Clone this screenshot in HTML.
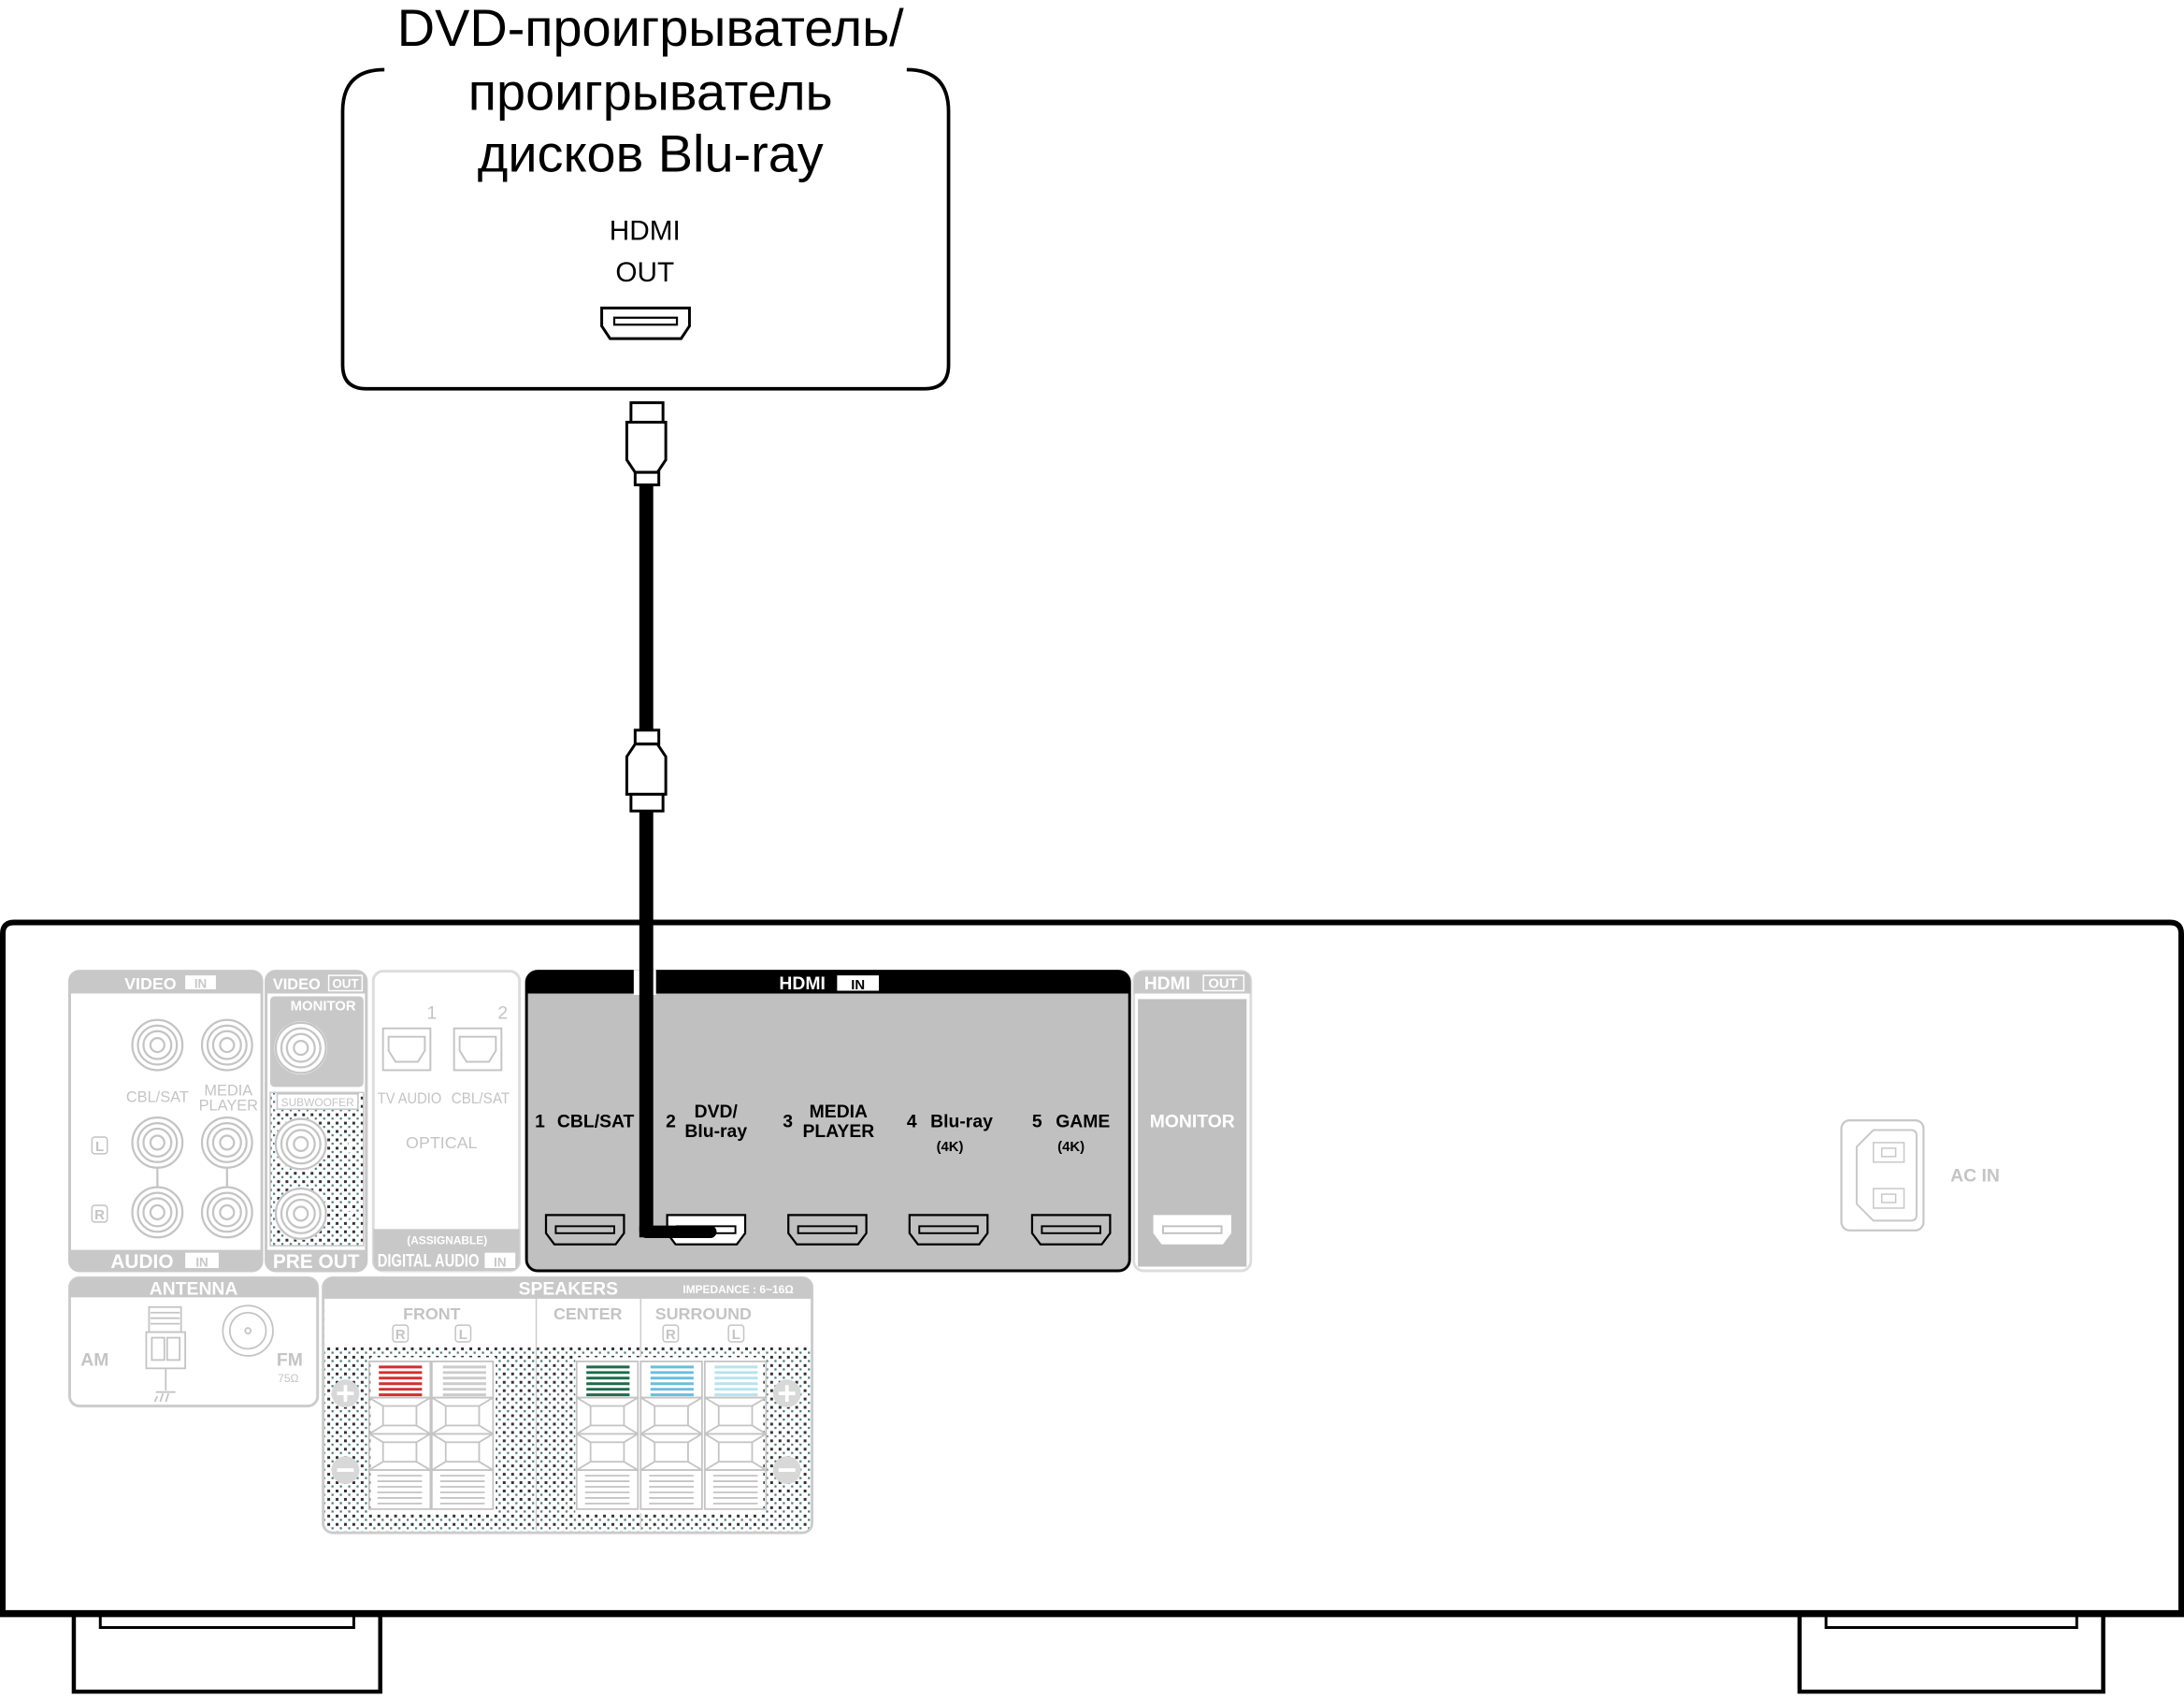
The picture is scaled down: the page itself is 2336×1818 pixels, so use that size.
<!DOCTYPE html>
<html><head><meta charset="utf-8"><style>
html,body{margin:0;padding:0;background:#fff;width:2336px;height:1818px;overflow:hidden}
svg{display:block}
text{font-family:"Liberation Sans",Arial,sans-serif}
.b{font-weight:bold}
</style></head><body>
<svg width="2336" height="1818" viewBox="0 0 1568 1220" preserveAspectRatio="none" xmlns="http://www.w3.org/2000/svg">
<defs>
<pattern id="dots" width="6" height="6" patternUnits="userSpaceOnUse">
<rect width="6" height="6" fill="#fff"/><rect x="1" y="1" width="2" height="2" fill="#333"/><rect x="4" y="4" width="1.5" height="1.5" fill="#4a7a7a"/>
</pattern>
<g id="hp"><path d="M-28,0 H28 V13 L22,21 H-22 L-28,13 Z" stroke="#000" stroke-width="1.5"/><rect x="-21" y="8" width="42" height="5" fill="none" stroke="#000" stroke-width="1.3"/></g>
<g id="jack" fill="none" stroke="#c4c4c4" stroke-width="1.5"><circle r="18"/><circle r="14"/><circle r="10"/><circle r="5"/></g>
<g id="term" fill="none" stroke="#c4c4c4" stroke-width="1.2">
<rect x="-22" y="0" width="44" height="26"/><rect x="-22" y="26" width="44" height="26"/><rect x="-12" y="32" width="24" height="14"/>
<rect x="-22" y="52" width="44" height="26"/><rect x="-12" y="58" width="24" height="14"/>
<rect x="-22" y="78" width="44" height="28"/>
<path d="M-22,26 l10,6 M22,26 l-10,6 M-22,52 l10,-6 M22,52 l-10,-6 M-22,52 l10,6 M22,52 l-10,6 M-22,78 l10,-6 M22,78 l-10,-6"/>
<path d="M-16,82 h32 M-16,86 h32 M-16,90 h32 M-16,94 h32 M-16,98 h32 M-16,102 h32"/>
</g>
</defs>

<!-- Title -->
<g font-size="37.5" text-anchor="middle" fill="#000">
<text x="467" y="33">DVD-проигрыватель/</text>
<text x="467" y="79">проигрыватель</text>
<text x="467" y="123">дисков Blu-ray</text>
</g>
<!-- Device box -->
<path d="M276,50 Q246,50 246,80 L246,262 Q246,279 263,279 L664,279 Q681,279 681,262 L681,80 Q681,50 651,50" fill="none" stroke="#000" stroke-width="2.5"/>
<text x="463" y="172" font-size="20" text-anchor="middle">HDMI</text>
<text x="463" y="202" font-size="20" text-anchor="middle">OUT</text>
<path d="M432,221 H495 V234 L489,243 H438 L432,234 Z" fill="#fff" stroke="#000" stroke-width="2"/>
<rect x="441" y="228" width="45" height="5" fill="none" stroke="#000" stroke-width="1.5"/>

<!-- Cable -->
<rect x="453" y="289" width="23" height="14" fill="#fff" stroke="#000" stroke-width="2"/>
<path d="M450,303 H478 V330 L472,339 H456 L450,330 Z" fill="#fff" stroke="#000" stroke-width="2"/>
<rect x="456" y="339" width="17" height="9" fill="#fff" stroke="#000" stroke-width="2"/>
<rect x="459" y="348" width="10" height="176" fill="#000"/>
<rect x="456" y="524" width="17" height="10" fill="#fff" stroke="#000" stroke-width="2"/>
<path d="M456,534 H472 L478,543 V570 H450 V543 Z" fill="#fff" stroke="#000" stroke-width="2"/>
<rect x="453" y="570" width="23" height="12" fill="#fff" stroke="#000" stroke-width="2"/>

<!-- Receiver body -->
<path d="M2,1158 V670 Q2,662 10,662 H1558 Q1566,662 1566,670 V1158" fill="none" stroke="#000" stroke-width="4"/>
<path d="M0,1158 H1568" stroke="#000" stroke-width="5"/>
<path d="M53,1160 V1214 H273 V1160" fill="none" stroke="#000" stroke-width="3"/>
<path d="M72,1160 V1168 H254 V1160" fill="none" stroke="#000" stroke-width="2"/>
<path d="M1292,1160 V1214 H1510 V1160" fill="none" stroke="#000" stroke-width="3"/>
<path d="M1311,1160 V1168 H1491 V1160" fill="none" stroke="#000" stroke-width="2"/>

<!-- VIDEO IN / AUDIO IN -->
<rect x="50" y="697" width="138" height="215" rx="7" fill="#fff" stroke="#c8c8c8" stroke-width="2"/>
<path d="M50,713 V704 Q50,697 57,697 H181 Q188,697 188,704 V713 Z" fill="#c8c8c8"/>
<text x="108" y="710" font-size="12" class="b" fill="#fff" text-anchor="middle">VIDEO</text>
<rect x="133" y="700" width="22" height="10" fill="#fff"/><text x="144" y="709" font-size="9" class="b" fill="#c8c8c8" text-anchor="middle">IN</text>
<path d="M50,897 H188 V905 Q188,912 181,912 H57 Q50,912 50,905 Z" fill="#c8c8c8"/>
<text x="102" y="910" font-size="14" class="b" fill="#fff" text-anchor="middle">AUDIO</text>
<rect x="133" y="899" width="24" height="11" fill="#fff"/><text x="145" y="909" font-size="9" class="b" fill="#c8c8c8" text-anchor="middle">IN</text>
<use href="#jack" x="113" y="750"/><use href="#jack" x="163" y="750"/>
<use href="#jack" x="113" y="820"/><use href="#jack" x="163" y="820"/>
<use href="#jack" x="113" y="870"/><use href="#jack" x="163" y="870"/>
<path d="M113,838 V852 M163,838 V852" stroke="#c4c4c4" stroke-width="1.5"/>
<g font-size="11" fill="#c4c4c4" text-anchor="middle"><text x="113" y="791">CBL/SAT</text><text x="164" y="786">MEDIA</text><text x="164" y="797">PLAYER</text></g>
<rect x="66" y="816" width="11" height="12" rx="2" fill="none" stroke="#c4c4c4"/><text x="71.5" y="826" font-size="10" class="b" fill="#c4c4c4" text-anchor="middle">L</text>
<rect x="66" y="865" width="11" height="12" rx="2" fill="none" stroke="#c4c4c4"/><text x="71.5" y="875" font-size="10" class="b" fill="#c4c4c4" text-anchor="middle">R</text>

<!-- VIDEO OUT / PRE OUT -->
<rect x="191" y="697" width="72" height="215" rx="7" fill="#fff" stroke="#c8c8c8" stroke-width="2"/>
<path d="M191,713 V704 Q191,697 198,697 H256 Q263,697 263,704 V713 Z" fill="#c8c8c8"/>
<text x="213" y="710" font-size="11" class="b" fill="#fff" text-anchor="middle">VIDEO</text>
<rect x="236" y="700" width="24" height="11" fill="none" stroke="#fff"/><text x="248" y="709" font-size="9" class="b" fill="#fff" text-anchor="middle">OUT</text>
<rect x="194" y="715" width="67" height="65" rx="3" fill="#c8c8c8"/>
<text x="232" y="725" font-size="10" class="b" fill="#fff" text-anchor="middle">MONITOR</text>
<g fill="#fff"><circle cx="216" cy="752" r="19"/></g><use href="#jack" x="216" y="752"/>
<rect x="194" y="784" width="67" height="110" fill="url(#dots)" stroke="#c8c8c8"/>
<rect x="199" y="785" width="58" height="11" fill="#fff" stroke="#c4c4c4"/><text x="228" y="794" font-size="8" fill="#c4c4c4" text-anchor="middle">SUBWOOFER</text>
<circle cx="216" cy="821" r="19" fill="#fff"/><use href="#jack" x="216" y="821"/>
<circle cx="216" cy="871" r="19" fill="#fff"/><use href="#jack" x="216" y="871"/>
<text x="251" y="827" font-size="14" class="b" fill="#fff" text-anchor="middle">1</text>
<text x="251" y="877" font-size="14" class="b" fill="#fff" text-anchor="middle">2</text>
<path d="M191,897 H263 V905 Q263,912 256,912 H198 Q191,912 191,905 Z" fill="#c8c8c8"/>
<text x="227" y="910" font-size="14" class="b" fill="#fff" text-anchor="middle">PRE OUT</text>

<!-- DIGITAL AUDIO -->
<rect x="268" y="697" width="105" height="215" rx="7" fill="#fff" stroke="#ddd" stroke-width="2"/>
<text x="310" y="731" font-size="13" fill="#c4c4c4" text-anchor="middle">1</text><text x="361" y="731" font-size="13" fill="#c4c4c4" text-anchor="middle">2</text>
<g fill="none" stroke="#c4c4c4" stroke-width="1.3">
<rect x="275" y="738" width="34" height="30"/><path d="M279,744 h26 v10 l-5,8 h-16 l-5,-8 z"/>
<rect x="326" y="738" width="34" height="30"/><path d="M330,744 h26 v10 l-5,8 h-16 l-5,-8 z"/>
</g>
<g font-size="11" fill="#c4c4c4" text-anchor="middle"><text x="294" y="792" textLength="46" lengthAdjust="spacingAndGlyphs">TV AUDIO</text><text x="345" y="792" textLength="42" lengthAdjust="spacingAndGlyphs">CBL/SAT</text><text x="317" y="824" font-size="12">OPTICAL</text></g>
<path d="M268,882 H373 V905 Q373,912 366,912 H275 Q268,912 268,905 Z" fill="#c8c8c8"/>
<text x="321" y="893" font-size="8" class="b" fill="#fff" text-anchor="middle">(ASSIGNABLE)</text>
<text x="271" y="909" font-size="13" class="b" fill="#fff" textLength="73" lengthAdjust="spacingAndGlyphs">DIGITAL AUDIO</text>
<rect x="348" y="899" width="22" height="11" fill="#fff"/><text x="359" y="909" font-size="9" class="b" fill="#c8c8c8" text-anchor="middle">IN</text>

<!-- HDMI IN -->
<rect x="378" y="697" width="433" height="215" rx="8" fill="#c0c0c0" stroke="#000" stroke-width="2"/>
<path d="M378,713 V705 Q378,697 386,697 H803 Q811,697 811,705 V713 Z" fill="#000"/>
<rect x="455" y="696" width="16" height="18" fill="#fff"/>
<text x="576" y="710" font-size="13" class="b" fill="#fff" text-anchor="middle">HDMI</text>
<rect x="601" y="700" width="30" height="11" fill="#fff"/><text x="616" y="710" font-size="10" class="b" fill="#000" text-anchor="middle">IN</text>
<g font-size="13" class="b" fill="#000">
<text x="384" y="809">1</text><text x="400" y="809">CBL/SAT</text>
<text x="478" y="809">2</text><text x="514" y="802" text-anchor="middle">DVD/</text><text x="514" y="816" text-anchor="middle">Blu-ray</text>
<text x="562" y="809">3</text><text x="602" y="802" text-anchor="middle">MEDIA</text><text x="602" y="816" text-anchor="middle">PLAYER</text>
<text x="651" y="809">4</text><text x="668" y="809">Blu-ray</text><text x="682" y="826" font-size="10" text-anchor="middle">(4K)</text>
<text x="741" y="809">5</text><text x="758" y="809">GAME</text><text x="769" y="826" font-size="10" text-anchor="middle">(4K)</text>
</g>
<g transform="translate(0,872)">
<use href="#hp" x="420" fill="#c0c0c0"/><use href="#hp" x="507" fill="#fff"/><use href="#hp" x="594" fill="#c0c0c0"/><use href="#hp" x="681" fill="#c0c0c0"/><use href="#hp" x="769" fill="#c0c0c0"/>
</g>
<!-- cable into receiver -->
<rect x="459" y="582" width="10" height="302" fill="#000"/>
<path d="M464,884 H510" stroke="#000" stroke-width="9" stroke-linecap="round"/>
<path d="M459,880 H469 V888 H459 Z" fill="#000"/>

<!-- HDMI OUT -->
<rect x="814" y="697" width="84" height="215" rx="7" fill="#fff" stroke="#ddd" stroke-width="2"/>
<path d="M814,713 V704 Q814,697 821,697 H891 Q898,697 898,704 V713 Z" fill="#c8c8c8"/>
<text x="838" y="710" font-size="13" class="b" fill="#fff" text-anchor="middle">HDMI</text>
<rect x="864" y="700" width="29" height="11" fill="none" stroke="#fff"/><text x="878" y="709" font-size="10" class="b" fill="#fff" text-anchor="middle">OUT</text>
<rect x="817" y="717" width="78" height="192" fill="#c0c0c0"/>
<text x="856" y="809" font-size="13" class="b" fill="#fff" text-anchor="middle">MONITOR</text>
<path d="M828,872 H884 V885 L878,893 H834 L828,885 Z" fill="#fff"/>
<rect x="835" y="880" width="42" height="5" fill="none" stroke="#c0c0c0" stroke-width="1.3"/>

<!-- AC IN -->
<rect x="1322" y="804" width="59" height="79" rx="6" fill="none" stroke="#c8c8c8" stroke-width="1.5"/>
<path d="M1345,811 H1372 Q1376,811 1376,815 V872 Q1376,876 1372,876 H1345 L1333,864 V823 Z" fill="none" stroke="#c8c8c8" stroke-width="1.3"/>
<rect x="1345" y="820" width="22" height="14" fill="none" stroke="#c8c8c8"/><rect x="1351" y="824" width="10" height="6" fill="none" stroke="#c8c8c8"/>
<rect x="1345" y="853" width="22" height="14" fill="none" stroke="#c8c8c8"/><rect x="1351" y="857" width="10" height="6" fill="none" stroke="#c8c8c8"/>
<text x="1418" y="848" font-size="13" class="b" fill="#c4c4c4" text-anchor="middle">AC IN</text>

<!-- ANTENNA -->
<rect x="50" y="917" width="178" height="92" rx="7" fill="#fff" stroke="#ccc" stroke-width="2"/>
<path d="M50,931 V924 Q50,917 57,917 H221 Q228,917 228,924 V931 Z" fill="#c8c8c8"/>
<text x="139" y="929" font-size="13" class="b" fill="#fff" text-anchor="middle">ANTENNA</text>
<g fill="none" stroke="#c4c4c4" stroke-width="1.2">
<rect x="107" y="938" width="23" height="18"/><path d="M108,942 h21 M108,946 h21 M108,950 h21"/>
<rect x="105" y="956" width="28" height="26"/><rect x="109" y="960" width="9" height="16"/><rect x="120" y="960" width="9" height="16"/>
<path d="M119,982 V998 M113,1002 l-2,4 M117,1000 l-2,6 M121,1000 l-2,6 M112,999 h14"/>
<circle cx="178" cy="955" r="18"/><circle cx="178" cy="955" r="13"/><circle cx="178" cy="955" r="2"/>
</g>
<text x="68" y="980" font-size="13" class="b" fill="#c4c4c4" text-anchor="middle">AM</text>
<text x="208" y="980" font-size="13" class="b" fill="#c4c4c4" text-anchor="middle">FM</text>
<text x="207" y="992" font-size="8" fill="#c4c4c4" text-anchor="middle">75Ω</text>

<!-- SPEAKERS -->
<rect x="232" y="917" width="351" height="183" rx="7" fill="url(#dots)" stroke="#ccc" stroke-width="2"/>
<rect x="233" y="931" width="349" height="36" fill="#fff"/>
<path d="M232,932 V924 Q232,917 239,917 H576 Q583,917 583,924 V932 Z" fill="#c8c8c8"/>
<text x="408" y="929" font-size="13" class="b" fill="#fff" text-anchor="middle">SPEAKERS</text>
<text x="530" y="928" font-size="8" class="b" fill="#fff" text-anchor="middle">IMPEDANCE : 6~16Ω</text>
<path d="M385,932 V1098 M460,932 V1098" stroke="#ccc" stroke-width="1"/>
<g font-size="12" class="b" fill="#c4c4c4" text-anchor="middle">
<text x="310" y="947">FRONT</text><text x="422" y="947">CENTER</text><text x="505" y="947">SURROUND</text>
</g>
<g fill="none" stroke="#c4c4c4"><rect x="282" y="951" width="11" height="12" rx="2"/><rect x="327" y="951" width="11" height="12" rx="2"/><rect x="476" y="951" width="11" height="12" rx="2"/><rect x="523" y="951" width="11" height="12" rx="2"/></g>
<g font-size="10" class="b" fill="#c4c4c4" text-anchor="middle"><text x="287.5" y="961">R</text><text x="332.5" y="961">L</text><text x="481.5" y="961">R</text><text x="528.5" y="961">L</text></g>
<rect x="266" y="974" width="90" height="112" fill="#fff"/>
<rect x="413" y="974" width="135" height="112" fill="#fff"/>
<g transform="translate(0,977)"><use href="#term" x="287"/><use href="#term" x="332"/><use href="#term" x="436"/><use href="#term" x="482"/><use href="#term" x="528"/></g>
<g stroke-width="2">
<path d="M272,981 h31 M272,985 h31 M272,989 h31 M272,993 h31 M272,997 h31 M272,1001 h31" stroke="#d03030"/>
<path d="M421,981 h31 M421,985 h31 M421,989 h31 M421,993 h31 M421,997 h31 M421,1001 h31" stroke="#1f6b4a"/>
<path d="M467,981 h31 M467,985 h31 M467,989 h31 M467,993 h31 M467,997 h31 M467,1001 h31" stroke="#6bbedb"/>
<path d="M513,981 h31 M513,985 h31 M513,989 h31 M513,993 h31 M513,997 h31 M513,1001 h31" stroke="#b9e2ee"/>
<path d="M318,981 h31 M318,985 h31 M318,989 h31 M318,993 h31 M318,997 h31 M318,1001 h31" stroke="#ccc"/>
</g>
<g fill="#d8d8d8"><circle cx="248" cy="1000" r="10"/><circle cx="248" cy="1055" r="10"/><circle cx="565" cy="1000" r="10"/><circle cx="565" cy="1055" r="10"/></g>
<g stroke="#fff" stroke-width="2.5"><path d="M242,1000 h12 M248,994 v12 M559,1000 h12 M565,994 v12 M242,1055 h12 M559,1055 h12"/></g>
</svg>
</body></html>
